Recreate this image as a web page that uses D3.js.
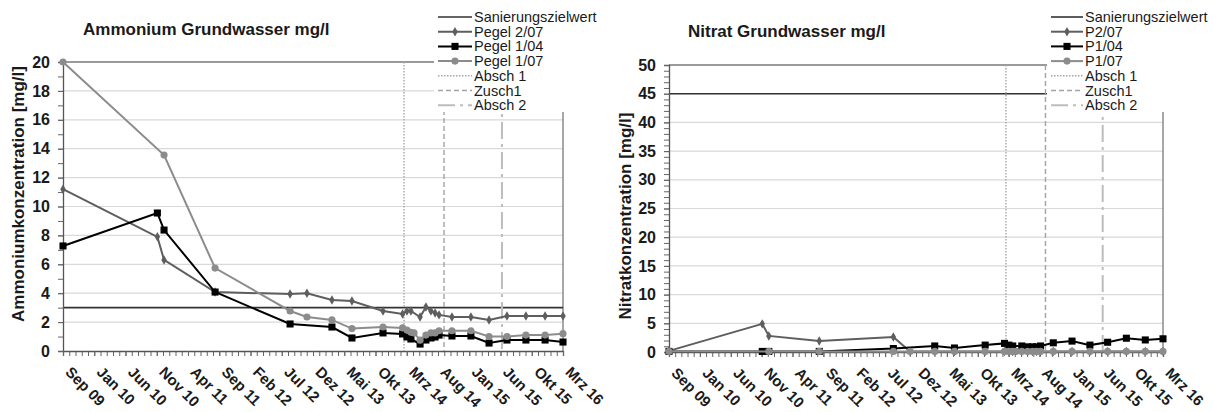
<!DOCTYPE html>
<html>
<head>
<meta charset="utf-8">
<script src="https://cdn.jsdelivr.net/npm/d3@7"></script>
<style>
    body {margin: 0; background: #fff}
    svg {display: block; font-family: "Liberation Sans", Arial, sans-serif}
</style>
</head>
<body>
<svg id="chart" width="1214" height="412"></svg>
<script>
// x axis: Excel date axis, major unit 150 days, minor 30 days
const startDate = "2009-09-01"
const tickStepDays = 150
const minorStepDays = 30
const tickLabels = ["Sep 09", "Jan 10", "Jun 10", "Nov 10", "Apr 11", "Sep 11", "Feb 12", "Jul 12", "Dez 12",
    "Mai 13", "Okt 13", "Mrz 14", "Aug 14", "Jan 15", "Jun 15", "Okt 15", "Mrz 16"]

const sampleDates = ["2009-09-01", "2010-11-28", "2010-12-30", "2011-09-01", "2012-08-26", "2012-11-15",
    "2013-03-15", "2013-06-19", "2013-11-15", "2014-02-17", "2014-03-10", "2014-03-29", "2014-04-13",
    "2014-05-12", "2014-06-09", "2014-07-03", "2014-07-23", "2014-08-11", "2014-10-12", "2015-01-11",
    "2015-04-08", "2015-07-03", "2015-10-02", "2016-01-02", "2016-03-28"]

// Ammonium [mg/l]
const ammonium207 = [11.2, 7.9, 6.3, 4.08, 3.94, 4.0, 3.53, 3.46, 2.77, 2.56, 2.77, 2.77, null,
    2.35, 3.05, 2.77, 2.63, 2.5, 2.35, 2.35, 2.15, 2.42, 2.42, 2.42, 2.42]
const ammonium104 = [7.27, 9.55, 8.37, 4.08, 1.87, null, 1.66, 0.9, 1.25, 1.18, 0.97, 0.83, null,
    0.48, 0.76, 0.9, 0.97, 1.1, 1.04, 1.04, 0.55, 0.76, 0.76, 0.76, 0.62]
const ammonium107 = [20, null, 13.56, 5.74, 2.77, 2.35, 2.15, 1.55, 1.66, 1.6, 1.45, 1.3, 1.25,
    0.75, 1.1, 1.25, 1.25, 1.4, 1.4, 1.4, 1.0, 1.0, 1.1, 1.1, 1.2]

// Nitrat [mg/l]
const nitrat207 = [0.2, 4.9, 2.8, 1.9, 2.6, 0.1, 0.1, 0.1, 0.1, 0.1, 0.1, 0.1, null,
    0.1, 0.1, 0.1, 0.1, 0.1, 0.1, 0.1, 0.1, 0.1, 0.1, 0.1, 0.1]
const nitrat104 = [0.1, 0.1, 0.1, 0.1, 0.6, null, 1.05, 0.7, 1.2, 1.5, 1.2, 1.05, null,
    1.05, 0.9, 0.9, 0.9, 1.05, 1.6, 1.9, 1.2, 1.7, 2.4, 2.1, 2.3]
const nitrat107 = [0.1, null, 0.1, 0.1, 0.1, 0.1, 0.1, 0.1, 0.1, 0.1, 0.1, 0.1, 0.1,
    0.1, 0.1, 0.1, 0.1, 0.1, 0.1, 0.1, 0.1, 0.1, 0.1, 0.1, 0.1]

const ammoniumTarget = 3
const nitratTarget = 45
const eventNames = ["Absch 1", "Zusch1", "Absch 2"]
const eventDates = ["2014-02-24", "2014-09-04", "2015-06-09"]

const parse = d3.timeParse("%Y-%m-%d")
const start = parse(startDate)
const majorDates = d3.range(tickLabels.length).map(i => d3.timeDay.offset(start, i * tickStepDays))
const endDate = majorDates[majorDates.length - 1]
const minorDates = d3.range(0, (tickLabels.length - 1) * tickStepDays + 1, minorStepDays)
    .map(d => d3.timeDay.offset(start, d))

const seriesStyle = [
    {color: "#5e5e5e", symbol: d3.symbolDiamond, size: 26},
    {color: "#000000", symbol: d3.symbolSquare, size: 50},
    {color: "#8c8c8c", symbol: d3.symbolCircle, size: 40}
]
const eventStyle = [
    {color: "#a6a6a6", dash: "1.5,1.5", width: 1.4},
    {color: "#a3a3a3", dash: "5,3", width: 1.4},
    {color: "#bdbdbd", dash: "17,5,3,5", width: 2}
]

const svg = d3.select("#chart")

function drawPanel(cfg) {
    let x = d3.scaleTime().domain([start, endDate]).range([cfg.left, cfg.right])
    let y = d3.scaleLinear().domain([0, cfg.yMax]).range([cfg.bottom, cfg.top])
    let g = svg.append("g")

    // grid
    g.append("g")
        .selectAll("line")
        .data(d3.range(cfg.yStep, cfg.yMax, cfg.yStep))
        .join("line")
        .attr("x1", cfg.left).attr("x2", cfg.right)
        .attr("y1", d => y(d)).attr("y2", d => y(d))
        .attr("stroke", "#d9d9d9").attr("stroke-width", 1.2)

    // frame top / right
    g.append("path")
        .attr("d", `M${cfg.left},${y(cfg.yMax)}H${cfg.right}V${cfg.bottom}`)
        .attr("fill", "none").attr("stroke", "#7a7a7a").attr("stroke-width", 1.3)

    // target value
    g.append("line")
        .attr("x1", cfg.left).attr("x2", cfg.right)
        .attr("y1", y(cfg.target)).attr("y2", y(cfg.target))
        .attr("stroke", "#333").attr("stroke-width", 1.6)

    // y axis
    g.append("g")
        .attr("transform", `translate(${cfg.left},0)`)
        .call(d3.axisLeft(y).tickValues(d3.range(0, cfg.yMax + 0.001, cfg.yMinor)).tickFormat("").tickSize(5))
        .call(a => a.select(".domain").remove())
        .call(a => a.selectAll("line").attr("stroke", "#666"))
    g.append("g")
        .attr("transform", `translate(${cfg.left},0)`)
        .call(d3.axisLeft(y).tickValues(d3.range(0, cfg.yMax + 0.001, cfg.yStep)).tickSize(5).tickPadding(8))
        .call(a => a.select(".domain").attr("stroke", "#555").attr("stroke-width", 1.3))
        .call(a => a.selectAll("line").attr("stroke", "#666"))
        .call(a => a.selectAll("text")
            .attr("font-size", 16).attr("font-weight", "bold").attr("fill", "#1a1a1a")
            .attr("font-family", "Liberation Sans, Arial, sans-serif"))

    // x axis
    g.append("g")
        .attr("transform", `translate(0,${cfg.bottom})`)
        .call(d3.axisBottom(x).tickValues(minorDates).tickFormat("").tickSize(5))
        .call(a => a.select(".domain").remove())
        .call(a => a.selectAll("line").attr("stroke", "#666"))
    g.append("g")
        .attr("transform", `translate(0,${cfg.bottom})`)
        .call(d3.axisBottom(x).tickValues(majorDates).tickFormat((d, i) => tickLabels[i]).tickSize(5))
        .call(a => a.select(".domain").attr("stroke", "#555").attr("stroke-width", 1.3))
        .call(a => a.selectAll("line").attr("stroke", "#666"))
        .call(a => a.selectAll("text")
            .attr("x", 0).attr("y", 0).attr("dy", 0)
            .attr("text-anchor", "start")
            .attr("transform", "translate(1,22) rotate(45)")
            .attr("font-size", 15).attr("font-weight", "bold").attr("fill", "#1a1a1a")
            .attr("font-family", "Liberation Sans, Arial, sans-serif"))

    // event lines
    g.append("g")
        .selectAll("line")
        .data(eventDates)
        .join("line")
        .attr("x1", d => x(parse(d))).attr("x2", d => x(parse(d)))
        .attr("y1", y(cfg.yMax)).attr("y2", cfg.bottom)
        .attr("stroke", (d, i) => eventStyle[i].color)
        .attr("stroke-width", (d, i) => eventStyle[i].width)
        .attr("stroke-dasharray", (d, i) => eventStyle[i].dash)

    // series
    let line = d3.line().x(d => x(d.date)).y(d => y(d.value))
    cfg.series.forEach((values, k) => {
        let st = seriesStyle[k]
        let pts = values.map((v, i) => ({date: parse(sampleDates[i]), value: v})).filter(d => d.value !== null)
        g.append("path")
            .datum(pts)
            .attr("d", line)
            .attr("fill", "none").attr("stroke", st.color).attr("stroke-width", 2)
        g.append("g")
            .selectAll("path")
            .data(pts)
            .join("path")
            .attr("transform", d => `translate(${x(d.date)},${y(d.value)})`)
            .attr("d", d3.symbol().type(st.symbol).size(st.size))
            .attr("fill", st.color)
    })

    // titles
    g.append("text")
        .attr("x", cfg.titleX).attr("y", cfg.titleY)
        .attr("font-size", 17).attr("font-weight", "bold").attr("fill", "#1a1a1a")
        .text(cfg.title)
    g.append("text")
        .attr("transform", `translate(${cfg.yLabelX},${cfg.yLabelY}) rotate(-90)`)
        .attr("text-anchor", "middle")
        .attr("font-size", 17).attr("font-weight", "bold").attr("fill", "#1a1a1a")
        .text(cfg.yLabel)

    // legend
    let lg = g.append("g")
    lg.append("rect")
        .attr("x", cfg.legendX).attr("y", 0)
        .attr("width", cfg.legendW).attr("height", 112)
        .attr("fill", "#fff")
    let names = ["Sanierungszielwert"].concat(cfg.seriesNames, eventNames)
    let sx = cfg.legendX + 4
    let sw = cfg.sampleW
    names.forEach((name, i) => {
        let cy = 17 + i * 14.7
        let row = lg.append("g")
        if (i === 0) {
            row.append("line").attr("stroke", "#333").attr("stroke-width", 1.6)
                .attr("x1", sx).attr("x2", sx + sw).attr("y1", cy).attr("y2", cy)
        } else if (i <= 3) {
            let st = seriesStyle[i - 1]
            row.append("line").attr("stroke", st.color).attr("stroke-width", 2)
                .attr("x1", sx).attr("x2", sx + sw).attr("y1", cy).attr("y2", cy)
            row.append("path")
                .attr("transform", `translate(${sx + sw / 2},${cy})`)
                .attr("d", d3.symbol().type(st.symbol).size(st.size))
                .attr("fill", st.color)
        } else {
            let st = eventStyle[i - 4]
            row.append("line").attr("stroke", st.color).attr("stroke-width", st.width)
                .attr("stroke-dasharray", st.dash)
                .attr("x1", sx).attr("x2", sx + sw).attr("y1", cy).attr("y2", cy)
        }
        row.append("text")
            .attr("x", sx + sw + 2).attr("y", cy + 5)
            .attr("font-size", 14.5).attr("fill", "#1a1a1a")
            .text(name)
    })
}

drawPanel({
    left: 63, right: 563, top: 62, bottom: 351,
    yMax: 20, yStep: 2, yMinor: 1, target: ammoniumTarget,
    series: [ammonium207, ammonium104, ammonium107],
    seriesNames: ["Pegel 2/07", "Pegel 1/04", "Pegel 1/07"],
    title: "Ammonium Grundwasser mg/l", titleX: 83, titleY: 35,
    yLabel: "Ammoniumkonzentration [mg/l]", yLabelX: 24, yLabelY: 194,
    legendX: 434, legendW: 176, sampleW: 34
})

drawPanel({
    left: 669, right: 1163, top: 65, bottom: 352,
    yMax: 50, yStep: 5, yMinor: 1, target: nitratTarget,
    series: [nitrat207, nitrat104, nitrat107],
    seriesNames: ["P2/07", "P1/04", "P1/07"],
    title: "Nitrat Grundwasser mg/l", titleX: 688, titleY: 37,
    yLabel: "Nitratkonzentration [mg/l]", yLabelX: 631, yLabelY: 216,
    legendX: 1047, legendW: 167, sampleW: 32
})
</script>
</body>
</html>
